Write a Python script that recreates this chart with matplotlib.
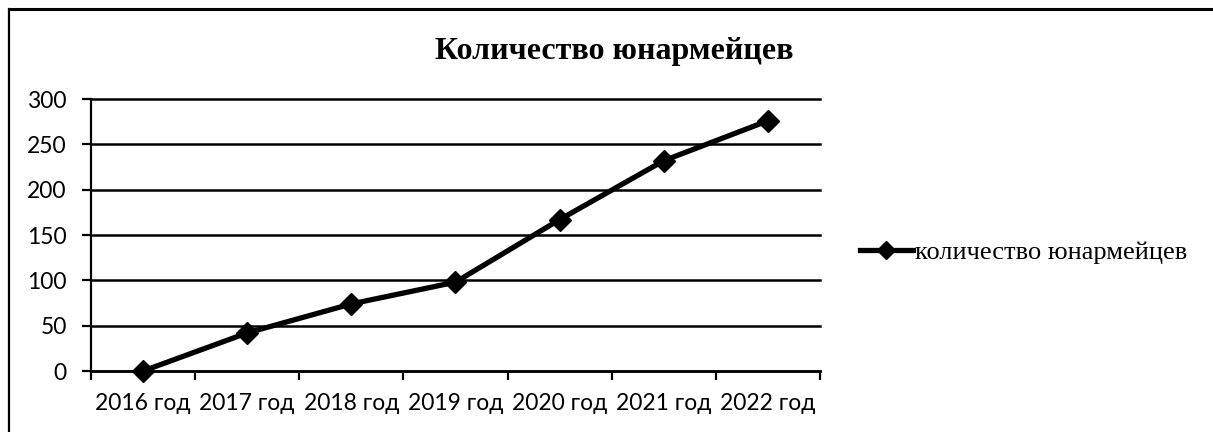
import matplotlib
matplotlib.use("Agg")
import matplotlib.pyplot as plt
from matplotlib.lines import Line2D
from matplotlib.ticker import FixedLocator

categories = ["2016 год", "2017 год", "2018 год", "2019 год", "2020 год", "2021 год", "2022 год"]
values = [0, 42, 74, 98, 167, 232, 276]
series_name = "количество юнармейцев"
title = "Количество юнармейцев"
yticks = [0, 50, 100, 150, 200, 250, 300]

fig = plt.figure(figsize=(12.13, 4.32), dpi=100)
ax = fig.add_axes([91/1213, 1-371/432, (820-91)/1213, (371-99)/432])

x = list(range(len(categories)))
ax.plot(x, values, color="black", lw=3.8, marker="D", markersize=11,
        markerfacecolor="black", markeredgecolor="black", label=series_name,
        solid_joinstyle="miter", zorder=3, clip_on=False)

ax.set_xlim(-0.5, len(categories) - 0.5)
ax.set_ylim(0, 300)
ax.set_yticks(yticks)
ax.set_xticks(x)
ax.set_xticklabels(categories)
ax.xaxis.set_minor_locator(FixedLocator([i - 0.5 for i in range(len(categories) + 1)]))
ax.tick_params(axis="x", which="major", length=0, pad=16)
ax.tick_params(axis="x", which="minor", length=6.5, width=1.6, direction="out", color="black")
ax.tick_params(axis="y", length=6.5, width=1.6, direction="out", pad=11)
for lab in ax.get_xticklabels() + ax.get_yticklabels():
    lab.set_fontfamily("Lato")
    lab.set_fontsize(16.5)

ax.grid(axis="y", color="black", lw=1.8)
for gl in ax.yaxis.get_gridlines():
    gl.set_clip_on(False)
ax.set_axisbelow(True)
for s in ["top", "right"]:
    ax.spines[s].set_visible(False)
ax.spines["left"].set_linewidth(1.6)
ax.spines["bottom"].set_linewidth(1.8)

fig.text(614.5/1213, 1-52/432, title, ha="center", va="center",
         fontfamily="Liberation Serif", fontweight="bold", fontsize=23)

leg = fig.legend(loc="center left", bbox_to_anchor=(860/1213, 1-252/432), frameon=False,
                 prop={"family": "Liberation Serif", "size": 19}, handlelength=2.0,
                 handletextpad=0.1, borderaxespad=0, borderpad=0)
for h in leg.legend_handles:
    h.set_markersize(9)

# outer frame (top and left edges)
fig.add_artist(Line2D([8.5/1213, 1], [1-8.5/432, 1-8.5/432], transform=fig.transFigure, color="black", lw=2.2))
fig.add_artist(Line2D([8.5/1213, 8.5/1213], [0, 1-8.5/432], transform=fig.transFigure, color="black", lw=1.6))

fig.savefig("out.png", dpi=100)
